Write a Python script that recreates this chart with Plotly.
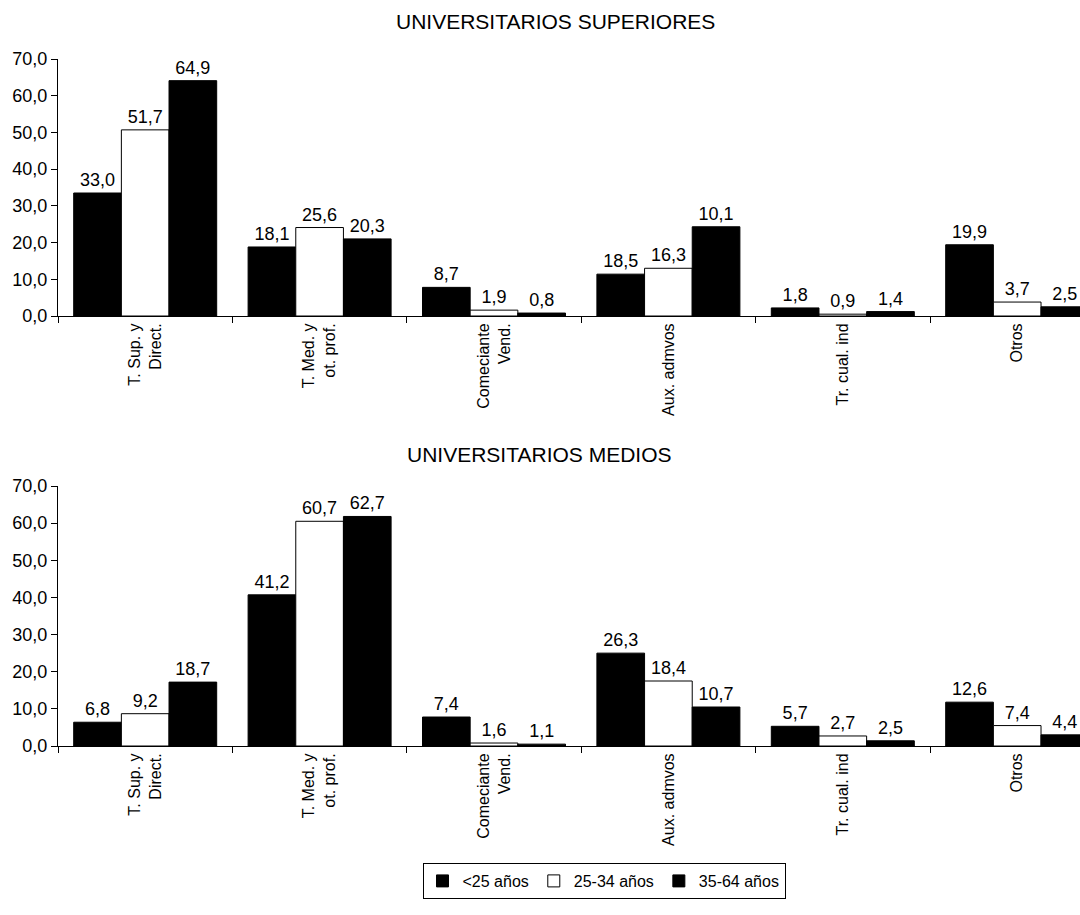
import plotly.graph_objects as go

# ---- data ----
categories = ["T. Sup. y<br>Direct.", "T. Med. y<br>ot. prof.", "Comeciante<br>Vend.",
              "Aux. admvos", "Tr. cual. ind", "Otros"]
series = ["<25 años", "25-34 años", "35-64 años"]

# UNIVERSITARIOS SUPERIORES (bar heights as drawn)
sup_lt25 = [33.5, 18.8, 7.8, 11.4, 2.2, 19.4]
sup_25_34 = [50.7, 24.1, 1.6, 13.0, 0.5, 3.8]
sup_35_64 = [64.1, 21.0, 0.8, 24.3, 1.2, 2.5]
# printed labels
sup_lt25_lbl = ["33,0", "18,1", "8,7", "18,5", "1,8", "19,9"]
sup_25_34_lbl = ["51,7", "25,6", "1,9", "16,3", "0,9", "3,7"]
sup_35_64_lbl = ["64,9", "20,3", "0,8", "10,1", "1,4", "2,5"]

# UNIVERSITARIOS MEDIOS
med_lt25 = [6.4, 40.7, 7.8, 25.0, 5.3, 11.8]
med_25_34 = [8.7, 60.5, 0.8, 17.5, 2.7, 5.5]
med_35_64 = [17.2, 61.8, 0.5, 10.5, 1.4, 3.0]
med_lt25_lbl = ["6,8", "41,2", "7,4", "26,3", "5,7", "12,6"]
med_25_34_lbl = ["9,2", "60,7", "1,6", "18,4", "2,7", "7,4"]
med_35_64_lbl = ["18,7", "62,7", "1,1", "10,7", "2,5", "4,4"]

titles = ["UNIVERSITARIOS SUPERIORES", "UNIVERSITARIOS MEDIOS"]
y_ticks = [0, 10, 20, 30, 40, 50, 60, 70]

FONT = "Arial, 'Liberation Sans', sans-serif"
fills = ["black", "white", "black"]

fig = go.Figure()

panels = [
    ("x", "y", [sup_lt25, sup_25_34, sup_35_64], [sup_lt25_lbl, sup_25_34_lbl, sup_35_64_lbl], True),
    ("x2", "y2", [med_lt25, med_25_34, med_35_64], [med_lt25_lbl, med_25_34_lbl, med_35_64_lbl], False),
]
for xa, ya, vals, lbls, show in panels:
    for name, v, t, c in zip(series, vals, lbls, fills):
        fig.add_trace(go.Bar(
            x=categories, y=v, name=name, text=t, textposition="outside",
            textfont=dict(family=FONT, size=18, color="black"),
            marker=dict(color=c, line=dict(color="black", width=1)),
            xaxis=xa, yaxis=ya, showlegend=show, legendgroup=name,
            cliponaxis=False, constraintext="none",
        ))

W, H = 1080, 915
x0 = 58 / W
cat_w = 174.4
xr = [-0.5, -0.5 + (W - 58) / cat_w]

xaxis_common = dict(
    type="category", range=xr, domain=[x0, 1], tickson="boundaries",
    ticks="outside", ticklen=6, tickcolor="black", showline=True, linecolor="black",
    linewidth=1, tickangle=-90, showgrid=False, automargin=False,
    tickfont=dict(family=FONT, size=16, color="black"),
)
yaxis_common = dict(
    range=[0, 70], tickvals=y_ticks, tickformat=".1f", ticks="outside", ticklen=6,
    tickcolor="black", showline=True, linecolor="black", linewidth=1,
    showgrid=False, zeroline=False, automargin=False,
    tickfont=dict(family=FONT, size=18, color="black"),
)

fig.update_layout(
    width=W, height=H, autosize=False,
    margin=dict(l=0, r=0, t=0, b=0, pad=0),
    paper_bgcolor="white", plot_bgcolor="white",
    separators=",.",
    barmode="group", bargap=0.18, bargroupgap=0,
    xaxis=dict(**xaxis_common, anchor="y"),
    yaxis=dict(**yaxis_common, domain=[1 - 316 / H, 1 - 59 / H], anchor="x"),
    xaxis2=dict(**xaxis_common, anchor="y2"),
    yaxis2=dict(**yaxis_common, domain=[1 - 746 / H, 1 - 486 / H], anchor="x2"),
    legend=dict(
        orientation="h", x=604 / W, y=1 - 881 / H, xanchor="center", yanchor="middle",
        bordercolor="black", borderwidth=1, bgcolor="white",
        font=dict(family=FONT, size=16, color="black"),
        itemwidth=30, tracegroupgap=0,
    ),
    annotations=[
        dict(text=titles[0], x=555 / W, y=1 - 22 / H, xref="paper", yref="paper",
             showarrow=False, xanchor="center", yanchor="middle",
             font=dict(family=FONT, size=21, color="black")),
        dict(text=titles[1], x=539 / W, y=1 - 454 / H, xref="paper", yref="paper",
             showarrow=False, xanchor="center", yanchor="middle",
             font=dict(family=FONT, size=21, color="black")),
    ],
)

page_fix = (
    "var s=document.documentElement.style; s.margin='0'; s.padding='0'; s.overflow='hidden';"
    "var b=document.body.style; b.margin='0'; b.padding='0'; b.overflow='hidden';"
)
fig.write_html("out.html", config={"displayModeBar": False}, post_script=page_fix)
